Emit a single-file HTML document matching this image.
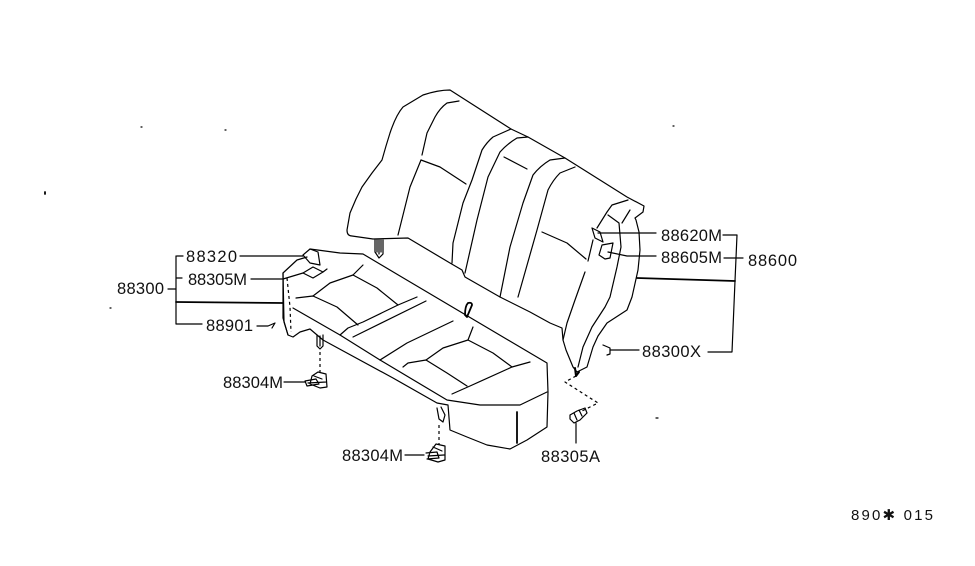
<!DOCTYPE html>
<html><head><meta charset="utf-8"><title>Seat diagram</title>
<style>
html,body{margin:0;padding:0;background:#fff;width:975px;height:566px;overflow:hidden}
svg{display:block}
path,line,polyline{fill:none;stroke:#000;stroke-width:1.2;stroke-linejoin:round;stroke-linecap:round}
.t{stroke-width:1.8}
.b{stroke-width:2}
.d{stroke-dasharray:3 3;stroke-linecap:butt}
text{font-family:"Liberation Sans",sans-serif;font-size:16.5px;fill:#111;stroke:none}
</style></head><body>
<svg width="975" height="566" viewBox="0 0 975 566" xmlns="http://www.w3.org/2000/svg">
<!-- backrest outline -->
<path d="M347 230Q347 236 352 236L373 239L408 238L450 263L462 270L465 277L500 297L530 312L550 323L562 328L563 340L566 350L573 367L577 372L587 367L593 347L598 336L607 323L627 310L632 297L638 270L640 250L639 232L636 220L635 218L643 212L644 206L627 197L600 180L565 158L528 137L511 129L450 90Q438 90 423 95L403 107Q396 115 390 133L386 146L382 160L372 173L362 187L356 199L350 213Z"/>
<!-- backrest seams -->
<path d="M459 101L447 103Q440 108 435 117L427 133L422 155"/>
<path d="M421 160L410 187L398 235"/>
<path d="M421 160L440 167L466 184"/>
<path d="M511 129L493 137Q487 142 482 150L472 180L463 203L453 243L452 263"/>
<path d="M528 137L517 138Q507 144 500 152L488 177L477 220L465 273"/>
<path d="M504 157L527 169"/>
<path d="M565 158L550 160Q540 166 533 175L523 203L510 247L500 297"/>
<path d="M575 167L560 173Q553 180 548 190L537 230L518 297"/>
<path d="M542 232L567 243L586 259"/>
<path d="M585 272L575 300L567 323L563 340"/>
<path d="M593 240L588 261"/>
<path d="M628 200L612 205L607 212L597 228"/>
<path d="M630 210L622 223"/>
<path d="M608 215L619 223L621 247L617 267L610 297L605 307L592 327L583 347L578 367"/>
<path d="M592 228L600 232L603 242L595 238Z"/>
<path d="M602 245L613 243L610 258L605 259L599 255Z"/>
<path d="M575 368L576 376L579 372" class="b"/>
<!-- rear hook -->
<path d="M375 240L375 252L379 258L383 254L383 240M377 240L377 252M379 240L379 254M381 240L381 252"/>
<!-- seat outline -->
<path d="M310 249L340 253L363 254L400 276L547 363L548 392L547 427L527 440L510 449L487 445L467 437L450 430L448 405L437 403L393 378L323 340L310 329L300 332L293 337L288 335L284 322L283 273L297 260L307 257"/>
<path d="M293 308L340 335L380 360L447 400L480 405L520 405L547 392"/>
<path d="M283 273V318L288 335"/>
<path d="M287 278L290 307L291 332" class="d"/>
<!-- seat seams -->
<path d="M296 298L313 296L337 307L358 325"/>
<path d="M313 296L330 283L353 275L363 265"/>
<path d="M353 275L377 288L398 305"/>
<path d="M340 335L348 328L363 322L398 305L417 297"/>
<path d="M353 337L426 301"/>
<path d="M380 360L407 343L453 321"/>
<path d="M403 367L408 363L426 360L447 373L467 386"/>
<path d="M426 360L443 348L468 340L473 327"/>
<path d="M468 340L493 353L512 367"/>
<path d="M452 394L470 386L512 367L530 362"/>
<path d="M517 412V443" class="t"/>
<path d="M465 315Q465 306 468 303Q472 302 472 305L467 317Z" class="t"/>
<path d="M303 255L310 249L318 252L320 265L310 263Z"/>
<path d="M303 273L313 267L323 272L313 278Z"/>
<path d="M323 272L327 269"/>
<!-- pegs, fasteners -->
<path d="M317 335V346L320 349L323 346V335M320 336V346"/>
<path d="M320 352V372" class="d"/>
<path d="M437 408L439 419L443 422L445 415L441 407"/>
<path d="M439 425V445" class="d"/>
<path d="M312 376L318 372L326 374L327 387L320 388L310 384ZM305 381L316 379L319 384L307 386ZM314 376L322 379M308 383L326 382"/>
<path d="M430 452L436 444L445 446L445 460L438 462L428 459Z M426 453L437 452L439 458L427 459M433 447L442 451M428 456L444 455"/>
<path d="M570 415L577 411L585 408L587 413L580 420L574 423L570 419ZM574 413L577 420M579 410L582 416"/>
<path d="M576 376L565 382L598 403L580 412" class="d"/>
<!-- leaders -->
<path d="M240 256H303"/>
<path d="M251 279H283L303 273"/>
<path d="M177 256H183M176 256V324H202M176 278H182M168 289H176"/>
<path d="M176 302L283 303" class="t"/>
<path d="M257 326H268L275 323L272 328"/>
<path d="M284 382H305"/>
<path d="M405 455H424"/>
<path d="M598 233H656"/>
<path d="M608 252L627 256H656"/>
<path d="M723 235H737L735 281L732 352H708"/>
<path d="M724 258H743"/>
<path d="M637 278L735 281" class="t"/>
<path d="M610 350H639M603 345L610 348L610 354L607 355"/>
<path d="M576 423V443"/>
<!-- specks -->
<path d="M45 192V194" class="t"/>
<path d="M141 127h1M225 130h1M110 308h1M673 126h1M656 418h2"/>
<!-- labels -->
<text x="186" y="262" textLength="51" lengthAdjust="spacing">88320</text>
<text x="188" y="285" textLength="59" lengthAdjust="spacing">88305M</text>
<text x="117" y="294" textLength="47" lengthAdjust="spacing">88300</text>
<text x="206" y="331" textLength="47" lengthAdjust="spacing">88901</text>
<text x="223" y="388" textLength="60" lengthAdjust="spacing">88304M</text>
<text x="342" y="461" textLength="61" lengthAdjust="spacing">88304M</text>
<text x="541" y="462" textLength="59" lengthAdjust="spacing">88305A</text>
<text x="642" y="357" textLength="59" lengthAdjust="spacing">88300X</text>
<text x="661" y="241" textLength="61" lengthAdjust="spacing">88620M</text>
<text x="661" y="263" textLength="61" lengthAdjust="spacing">88605M</text>
<text x="748" y="266" textLength="49" lengthAdjust="spacing">88600</text>
<text x="851" y="520" textLength="82" lengthAdjust="spacing" style="font-size:15px">890✱ 015</text>
</svg>
</body></html>
